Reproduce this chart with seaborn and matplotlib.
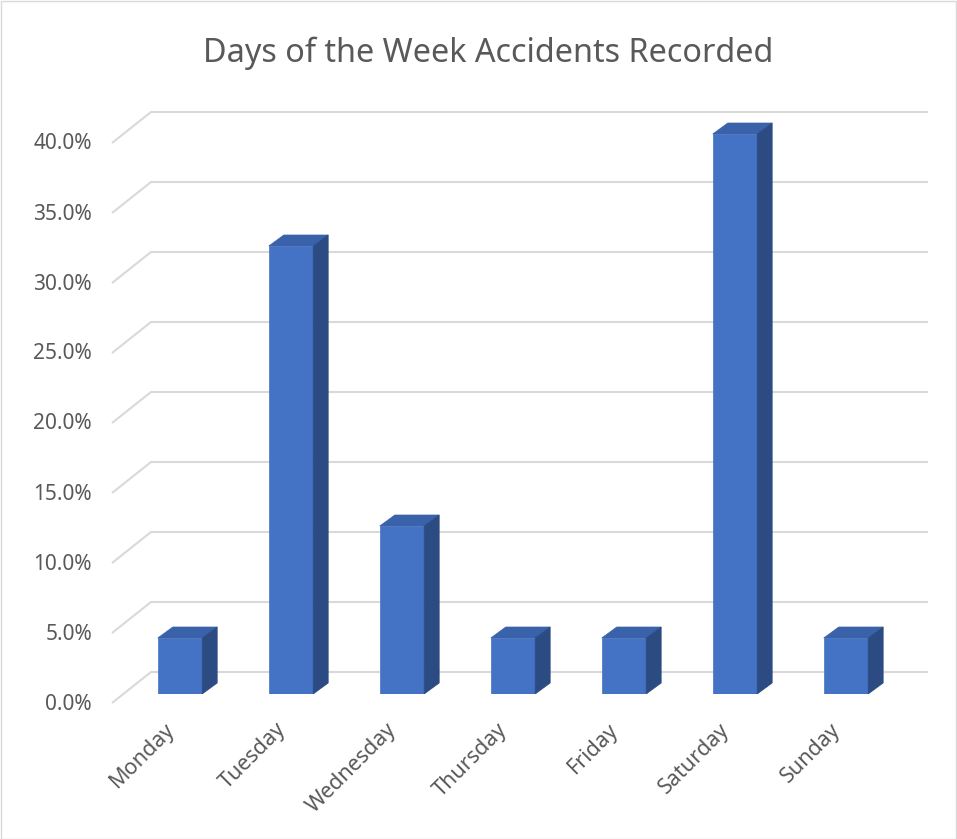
import matplotlib
matplotlib.use("Agg")
import matplotlib.pyplot as plt
import seaborn as sns
import pandas as pd
from matplotlib.patches import Polygon, Rectangle
from matplotlib.lines import Line2D
from matplotlib import transforms

days = ["Monday", "Tuesday", "Wednesday", "Thursday", "Friday", "Saturday", "Sunday"]
shares = [0.04, 0.32, 0.12, 0.04, 0.04, 0.40, 0.04]
yticks = [0.0, 0.05, 0.10, 0.15, 0.20, 0.25, 0.30, 0.35, 0.40]
ytick_labels = ["0.0%", "5.0%", "10.0%", "15.0%", "20.0%", "25.0%", "30.0%", "35.0%", "40.0%"]
title = "Days of the Week Accidents Recorded"

FRONT = "#4472C4"
TOP = "#3A62AB"
SIDE = "#2C4B82"
GRID = "#D9D9D9"
TEXT = "#595959"
FONT = ["Noto Sans", "DejaVu Sans"]

sns.set_theme(style="white")
plt.rcParams["font.family"] = FONT

W, H = 957, 839
fig = plt.figure(figsize=(W / 100, H / 100), dpi=100)
# axes spans pixel x 112..928, y (from top) 113..694
ax = fig.add_axes([112 / W, (H - 694) / H, (928 - 112) / W, (694 - 113) / H])
df = pd.DataFrame({"day": days, "share": shares})
sns.barplot(data=df, x="day", y="share", color=FRONT, saturation=1, width=0.4, ax=ax, zorder=3)
ax.set_xlim(-0.6126, 6.739)
ax.set_ylim(0, 0.415)
ax.axis("off")

fig.canvas.draw()
# 3D depth of bars (pixels)
ddx, ddy = 15, 11
for p in ax.patches:
    x0, y0 = p.get_x(), p.get_y()
    x1, y1 = x0 + p.get_width(), y0 + p.get_height()
    (X0, Y0) = ax.transData.transform((x0, y0))
    (X1, Y1) = ax.transData.transform((x1, y1))
    top = Polygon([(X0, Y1), (X0 + ddx, Y1 + ddy), (X1 + ddx, Y1 + ddy), (X1, Y1)],
                  closed=True, transform=None, facecolor=TOP, edgecolor=TOP, lw=0.5, zorder=3)
    side = Polygon([(X1, Y0), (X1, Y1), (X1 + ddx, Y1 + ddy), (X1 + ddx, Y0 + ddy)],
                   closed=True, transform=None, facecolor=SIDE, edgecolor=SIDE, lw=0.5, zorder=3)
    ax.add_artist(top)
    ax.add_artist(side)
    p.set_edgecolor(FRONT)
    p.set_linewidth(0.5)

# back wall + left wall gridlines
ax_left = ax.transAxes.transform((0, 0))[0]
ax_right = ax.transAxes.transform((1, 0))[0]
wall_dx, back_dy, front_dy = 39, 22, -9
for v, lab in zip(yticks, ytick_labels):
    yb = ax.transData.transform((0, v))[1]
    ax.add_line(Line2D([ax_left, ax_left + wall_dx, ax_right], [yb + front_dy, yb + back_dy, yb + back_dy],
                       transform=None, color=GRID, lw=1.5, zorder=1, clip_on=False, solid_capstyle="butt"))
    off = transforms.blended_transform_factory(ax.transAxes, ax.transData) + \
        transforms.ScaledTranslation(-20 / 100, -10 / 100, fig.dpi_scale_trans)
    ax.text(0, v, lab, transform=off, ha="right", va="center", fontsize=15, color=TEXT, family=FONT)

# x labels
xoff = transforms.blended_transform_factory(ax.transData, ax.transAxes) + \
    transforms.ScaledTranslation(-16 / 100, -25 / 100, fig.dpi_scale_trans)
for i, d in enumerate(days):
    ax.text(i, 0, d, transform=xoff, rotation=45, ha="right", va="top", rotation_mode="anchor",
            fontsize=15.5, color=TEXT, family=FONT)

fig.text(488 / W, 1 - 62.5 / H, title, ha="center", va="baseline", fontsize=23.3, color=TEXT, family=FONT)
fig.add_artist(Rectangle((0.5 / W, 0.5 / H), 1 - 1.5 / W, 1 - 1.5 / H, transform=fig.transFigure,
                         fill=False, edgecolor=GRID, lw=1))

fig.savefig("out.png", dpi=100)
